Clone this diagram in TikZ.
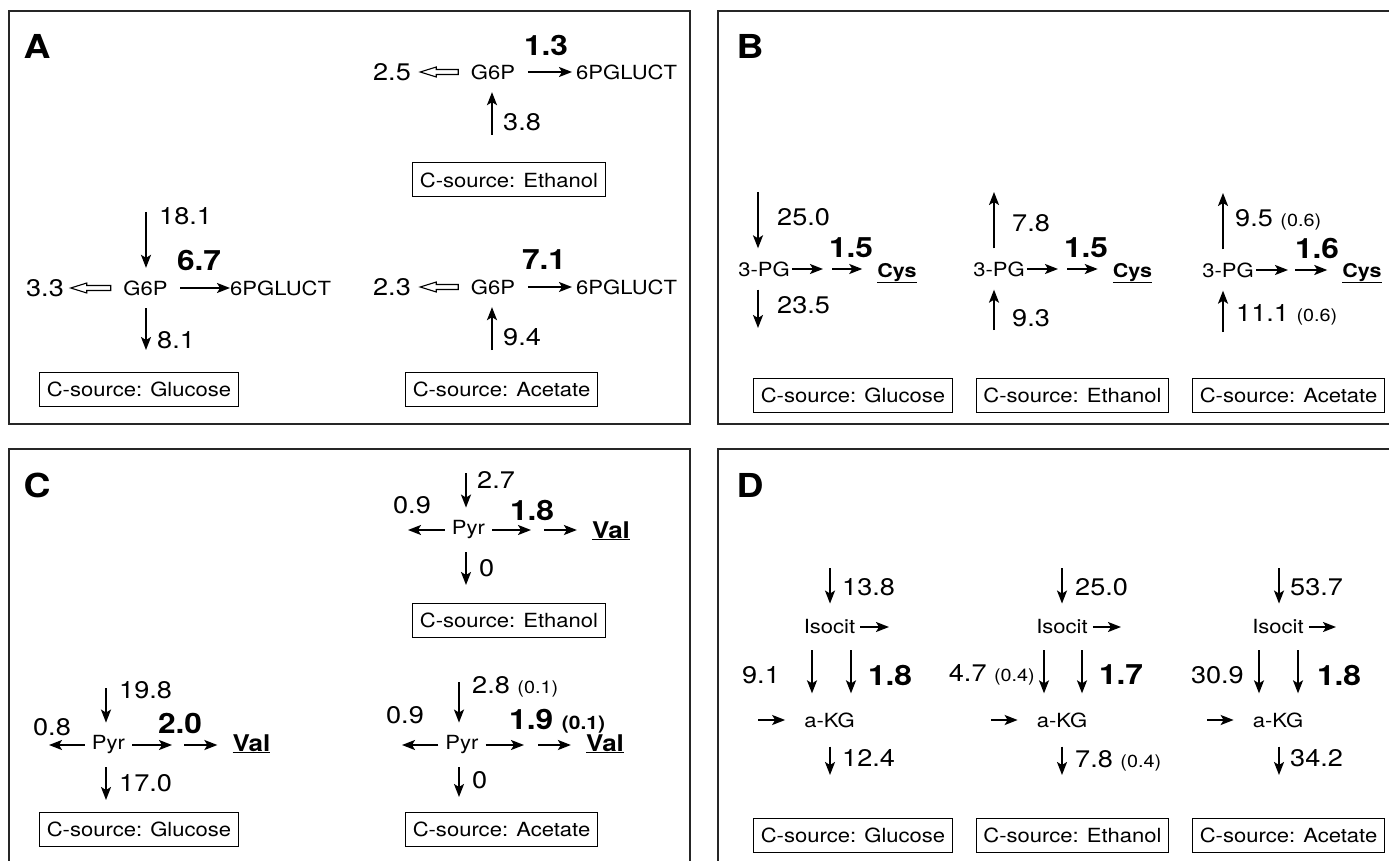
\documentclass[tikz,border=0pt]{standalone}
\usepackage{fontspec}
\setmainfont{TeX Gyre Heros}[FakeStretch=1.13]
\usepackage{tikz}
\usetikzlibrary{arrows.meta}
\newcommand{\numsize}{\fontsize{24}{28}\selectfont}
\newcommand{\metsize}{\fontsize{19.5}{23}\selectfont}
\newcommand{\fluxsize}{\bfseries\fontsize{28}{32}\selectfont}
\newcommand{\sd}[1]{{\fontsize{17.5}{20}\selectfont(#1)}}
\newcommand{\bsd}[1]{{\bfseries\fontsize{18.5}{22}\selectfont(#1)}}

\begin{document}
\begin{tikzpicture}[x=1pt,y=-1pt]
  \tikzstyle{panel}=[draw=black!85, line width=1.5pt]
  \tikzstyle{tag}=[font=\bfseries\fontsize{33}{38}\selectfont, inner sep=0pt]
  \tikzstyle{num}=[font=\numsize, inner sep=0pt]
  \tikzstyle{bnum}=[font=\fluxsize, inner sep=0pt]
  \tikzstyle{met}=[font=\metsize, inner sep=12.5pt]
  \tikzstyle{cys}=[font=\bfseries\fontsize{19}{22}\selectfont, inner sep=0pt, anchor=base]
  \tikzstyle{val}=[font=\bfseries\fontsize{23}{26}\selectfont, inner sep=0pt, anchor=base]
  \tikzstyle{src}=[draw, line width=1pt, font=\fontsize{19.5}{22}\selectfont, minimum height=34pt, inner xsep=7pt]
  \tikzstyle{flux}=[line width=1.9pt, -{Stealth[length=13pt,width=10pt,inset=3pt]}]
  \tikzstyle{hollow}=[draw, line width=1.1pt, line join=miter]

  \useasboundingbox (0,0) rectangle (1389,861);
  \clip (0,0) rectangle (1389,861);
  \draw[panel] (9,11) rectangle (690,424);
  \draw[panel] (718,11) rectangle (1420,424);
  \draw[panel] (9,449) rectangle (690,890);
  \draw[panel] (718,449) rectangle (1420,890);
  \node[tag] (tagA) at (37,46) {A};
  \node[tag] (tagB) at (750,46) {B};
  \node[tag] (tagC) at (37,485) {C};
  \node[tag] (tagD) at (750,485) {D};

  % A: glucose
  \node[met] (AgG6P) at (145.5,288) {G6P};
  \node[num] (AgLoss) at (45,288) {3.3};
  \node[met, inner sep=0pt, anchor=west] (AgPG) at (230,288) {6PGLUCT};
  \node[bnum] (AgFlux) at (199,260) {6.7};
  \coordinate (AgIn) at (146,212);
  \coordinate (AgEnd) at (146,350);
  \draw[hollow] (AgG6P.west) -- ++(0,2.5) -- ++(-24,0) -- ++(0,2.5) -- ++(-16,-5) -- ++(16,-5) -- ++(0,2.5) -- ++(24,0) -- cycle;
  \draw[flux] (AgIn) -- (AgIn |- AgG6P.north);
  \draw[flux] (AgEnd |- AgG6P.south) -- (AgEnd);
  \draw[flux] (AgG6P) -- (AgPG);
  \node[num, anchor=west] (AgInL) at (159,216) {18.1};
  \node[num, anchor=west] (AgEndL) at (157,340) {8.1};
  \node[src] (AgSrc) at (139,389) {C-source: Glucose};

  % A: ethanol
  \node[met] (AeG6P) at (493,72) {G6P};
  \node[num] (AeLoss) at (392,72) {2.5};
  \node[met, inner sep=0pt, anchor=west] (AePG) at (576,72) {6PGLUCT};
  \node[bnum] (AeFlux) at (546,45) {1.3};
  \coordinate (AeIn) at (492,135);
  \draw[hollow] (AeG6P.west) -- ++(0,2.5) -- ++(-22,0) -- ++(0,2.5) -- ++(-16,-5) -- ++(16,-5) -- ++(0,2.5) -- ++(22,0) -- cycle;
  \draw[flux] (AeIn) -- (AeIn |- AeG6P.south);
  \draw[flux, shorten >=4pt] (AeG6P) -- (AePG);
  \node[num, anchor=west] (AeInL) at (503,122) {3.8};
  \node[src] (AeSrc) at (509,180) {C-source: Ethanol};

  % A: acetate
  \node[met] (AaG6P) at (493,287) {G6P};
  \node[num] (AaLoss) at (392,287) {2.3};
  \node[met, inner sep=0pt, anchor=west] (AaPG) at (576,287) {6PGLUCT};
  \node[bnum] (AaFlux) at (544,260) {7.1};
  \coordinate (AaIn) at (492,350);
  \draw[hollow] (AaG6P.west) -- ++(0,2.5) -- ++(-22,0) -- ++(0,2.5) -- ++(-16,-5) -- ++(16,-5) -- ++(0,2.5) -- ++(22,0) -- cycle;
  \draw[flux] (AaIn) -- (AaIn |- AaG6P.south);
  \draw[flux, shorten >=4pt] (AaG6P) -- (AaPG);
  \node[num, anchor=west] (AaInL) at (503,337) {9.4};
  \node[src] (AaSrc) at (501.5,389) {C-source: Acetate};

  % B: glucose
  \node[met, inner xsep=2pt, inner ysep=13pt] (BgPG) at (764,269) {3-PG};
  \node[cys] (BgCys) at (897,277) {\underline{Cys}};
  \node[bnum] (BgFlux) at (851,248) {1.5};
  \coordinate (BgM1) at (823,269);
  \coordinate (BgM2) at (832,269);
  \coordinate (BgIn) at (758,192);
  \coordinate (BgEnd) at (758,328);
  \draw[flux] (BgPG) -- (BgM1);
  \draw[flux, shorten >=15pt] (BgM2) -- (BgM2 -| BgCys.west);
  \draw[flux] (BgIn) -- (BgIn |- BgPG.north);
  \draw[flux] (BgEnd |- BgPG.south) -- (BgEnd);
  \node[num, anchor=west] (BgInL) at (777,217) {25.0};
  \node[num, anchor=west] (BgEndL) at (777,305) {23.5};
  \node[src] (BgSrc) at (853,395) {C-source: Glucose};

  % B: ethanol
  \node[met, inner xsep=2pt, inner ysep=13pt] (BePG) at (999,269) {3-PG};
  \node[cys] (BeCys) at (1132.5,277) {\underline{Cys}};
  \node[bnum] (BeFlux) at (1086,248) {1.5};
  \coordinate (BeM1) at (1058,269);
  \coordinate (BeM2) at (1067,269);
  \coordinate (BeTop) at (994,192);
  \coordinate (BeBot) at (994,330);
  \draw[flux] (BePG) -- (BeM1);
  \draw[flux, shorten >=15pt] (BeM2) -- (BeM2 -| BeCys.west);
  \draw[flux] (BeTop |- BePG.north) -- (BeTop);
  \draw[flux] (BeBot) -- (BeBot |- BePG.south);
  \node[num, anchor=west] (BeTopL) at (1012,223) {7.8};
  \node[num, anchor=west] (BeBotL) at (1012,318) {9.3};
  \node[src] (BeSrc) at (1072.5,395) {C-source: Ethanol};

  % B: acetate
  \node[met, inner xsep=2pt, inner ysep=13pt] (BaPG) at (1228,270) {3-PG};
  \node[cys] (BaCys) at (1362,277) {\underline{Cys}};
  \node[bnum] (BaFlux) at (1317,248) {1.6};
  \coordinate (BaM1) at (1288,270);
  \coordinate (BaM2) at (1295,270);
  \coordinate (BaTop) at (1223,193);
  \coordinate (BaBot) at (1223,332);
  \draw[flux] (BaPG) -- (BaM1);
  \draw[flux, shorten >=15pt] (BaM2) -- (BaM2 -| BaCys.west);
  \draw[flux] (BaTop |- BaPG.north) -- (BaTop);
  \draw[flux] (BaBot) -- (BaBot |- BaPG.south);
  \node[num, anchor=base west] (BaTopL) at (1235,226) {9.5 \sd{0.6}};
  \node[num, anchor=base west] (BaBotL) at (1236,321) {11.1 \sd{0.6}};
  \node[src] (BaSrc) at (1288.5,395) {C-source: Acetate};

  % C: glucose
  \node[met, inner xsep=7pt, inner ysep=13pt] (CgPyr) at (108.5,745) {Pyr};
  \node[val] (CgVal) at (251.5,751) {\underline{Val}};
  \node[bnum] (CgFlux) at (180,723) {2.0};
  \coordinate (CgL) at (49,745);
  \coordinate (CgM1) at (172,745);
  \coordinate (CgM2) at (184,745);
  \coordinate (CgIn) at (106,688);
  \coordinate (CgEnd) at (106,800);
  \draw[flux] (CgPyr) -- (CgL);
  \draw[flux] (CgPyr) -- (CgM1);
  \draw[flux, shorten >=15pt] (CgM2) -- (CgM2 -| CgVal.west);
  \draw[flux] (CgIn) -- (CgIn |- CgPyr.north);
  \draw[flux] (CgEnd |- CgPyr.south) -- (CgEnd);
  \node[num] (CgLL) at (52,727) {0.8};
  \node[num, anchor=west] (CgInL) at (119,690) {19.8};
  \node[num, anchor=west] (CgEndL) at (119,783) {17.0};
  \node[src] (CgSrc) at (139,829.5) {C-source: Glucose};

  % C: ethanol
  \node[met, inner xsep=7pt, inner ysep=13pt] (CePyr) at (468.5,530) {Pyr};
  \node[val] (CeVal) at (611,538) {\underline{Val}};
  \node[bnum] (CeFlux) at (532,510) {1.8};
  \coordinate (CeL) at (408,530);
  \coordinate (CeM1) at (531,530);
  \coordinate (CeM2) at (544,530);
  \coordinate (CeIn) at (466,473);
  \coordinate (CeEnd) at (466,585);
  \draw[flux] (CePyr) -- (CeL);
  \draw[flux] (CePyr) -- (CeM1);
  \draw[flux, shorten >=15pt] (CeM2) -- (CeM2 -| CeVal.west);
  \draw[flux] (CeIn) -- (CeIn |- CePyr.north);
  \draw[flux] (CeEnd |- CePyr.south) -- (CeEnd);
  \node[num] (CeLL) at (412,505) {0.9};
  \node[num, anchor=west] (CeInL) at (477,480) {2.7};
  \node[num, anchor=west] (CeEndL) at (479,568) {0};
  \node[src] (CeSrc) at (509,620) {C-source: Ethanol};

  % C: acetate
  \node[met, inner xsep=7pt, inner ysep=13pt] (CaPyr) at (462,745) {Pyr};
  \node[val] (CaVal) at (605,751) {\underline{Val}};
  \node[bnum, anchor=base west] (CaFlux) at (509,729) {1.9 \bsd{0.1}};
  \coordinate (CaL) at (402,745);
  \coordinate (CaM1) at (524,745);
  \coordinate (CaM2) at (538,745);
  \coordinate (CaIn) at (459,682);
  \coordinate (CaEnd) at (459,797);
  \draw[flux] (CaPyr) -- (CaL);
  \draw[flux] (CaPyr) -- (CaM1);
  \draw[flux, shorten >=15pt] (CaM2) -- (CaM2 -| CaVal.west);
  \draw[flux] (CaIn) -- (CaIn |- CaPyr.north);
  \draw[flux] (CaEnd |- CaPyr.south) -- (CaEnd);
  \node[num] (CaLL) at (405,715) {0.9};
  \node[num, anchor=base west] (CaInL) at (472,693) {2.8 \sd{0.1}};
  \node[num, anchor=west] (CaEndL) at (472,780) {0};
  \node[src] (CaSrc) at (501.5,829) {C-source: Acetate};

  % D: glucose
  \node[met, inner xsep=5pt, inner ysep=16pt] (DgIso) at (829.5,627) {Isocit};
  \node[met, inner xsep=19pt, inner ysep=19pt] (DgKG) at (829.5,720) {a-KG};
  \coordinate (DgIn) at (830,568);
  \coordinate (DgOut) at (889,627);
  \coordinate (DgA) at (812,650);
  \coordinate (DgB) at (851,650);
  \coordinate (DgLft) at (758,720);
  \coordinate (DgEnd) at (830,775);
  \draw[flux] (DgIn) -- (DgIn |- DgIso.north);
  \draw[flux] (DgIso) -- (DgOut);
  \draw[flux] (DgA) -- (DgA |- DgKG.north);
  \draw[flux] (DgB) -- (DgB |- DgKG.north);
  \draw[flux] (DgLft) -- (DgKG);
  \draw[flux] (DgEnd |- DgKG.south) -- (DgEnd);
  \node[num, anchor=west] (DgInL) at (842,587) {13.8};
  \node[num] (DgAL) at (761,675) {9.1};
  \node[bnum] (DgFlux) at (890,675) {1.8};
  \node[num, anchor=west] (DgEndL) at (842,758) {12.4};
  \node[src] (DgSrc) at (853,835) {C-source: Glucose};

  % D: ethanol
  \node[met, inner xsep=5pt, inner ysep=16pt] (DeIso) at (1062,627) {Isocit};
  \node[met, inner xsep=19pt, inner ysep=19pt] (DeKG) at (1062,720) {a-KG};
  \coordinate (DeIn) at (1062,568);
  \coordinate (DeOut) at (1121,627);
  \coordinate (DeA) at (1044,650);
  \coordinate (DeB) at (1082,650);
  \coordinate (DeLft) at (991,720);
  \coordinate (DeEnd) at (1062,775);
  \draw[flux] (DeIn) -- (DeIn |- DeIso.north);
  \draw[flux] (DeIso) -- (DeOut);
  \draw[flux] (DeA) -- (DeA |- DeKG.north);
  \draw[flux] (DeB) -- (DeB |- DeKG.north);
  \draw[flux] (DeLft) -- (DeKG);
  \draw[flux] (DeEnd |- DeKG.south) -- (DeEnd);
  \node[num, anchor=west] (DeInL) at (1075,587) {25.0};
  \node[num, anchor=east] (DeAL) at (1035,675) {4.7 \sd{0.4}};
  \node[bnum] (DeFlux) at (1121,675) {1.7};
  \node[num, anchor=base west] (DeEndL) at (1075,767) {7.8 \sd{0.4}};
  \node[src] (DeSrc) at (1072.5,835) {C-source: Ethanol};

  % D: acetate
  \node[met, inner xsep=5pt, inner ysep=16pt] (DaIso) at (1278,627) {Isocit};
  \node[met, inner xsep=19pt, inner ysep=19pt] (DaKG) at (1278,720) {a-KG};
  \coordinate (DaIn) at (1279,568);
  \coordinate (DaOut) at (1336,627);
  \coordinate (DaA) at (1259,650);
  \coordinate (DaB) at (1298,650);
  \coordinate (DaLft) at (1207,720);
  \coordinate (DaEnd) at (1279,775);
  \draw[flux] (DaIn) -- (DaIn |- DaIso.north);
  \draw[flux] (DaIso) -- (DaOut);
  \draw[flux] (DaA) -- (DaA |- DaKG.north);
  \draw[flux] (DaB) -- (DaB |- DaKG.north);
  \draw[flux] (DaLft) -- (DaKG);
  \draw[flux] (DaEnd |- DaKG.south) -- (DaEnd);
  \node[num, anchor=west] (DaInL) at (1290,587) {53.7};
  \node[num, anchor=east] (DaAL) at (1244,675) {30.9};
  \node[bnum] (DaFlux) at (1339,675) {1.8};
  \node[num, anchor=west] (DaEndL) at (1290,758) {34.2};
  \node[src] (DaSrc) at (1288.5,835) {C-source: Acetate};
\end{tikzpicture}
\end{document}
